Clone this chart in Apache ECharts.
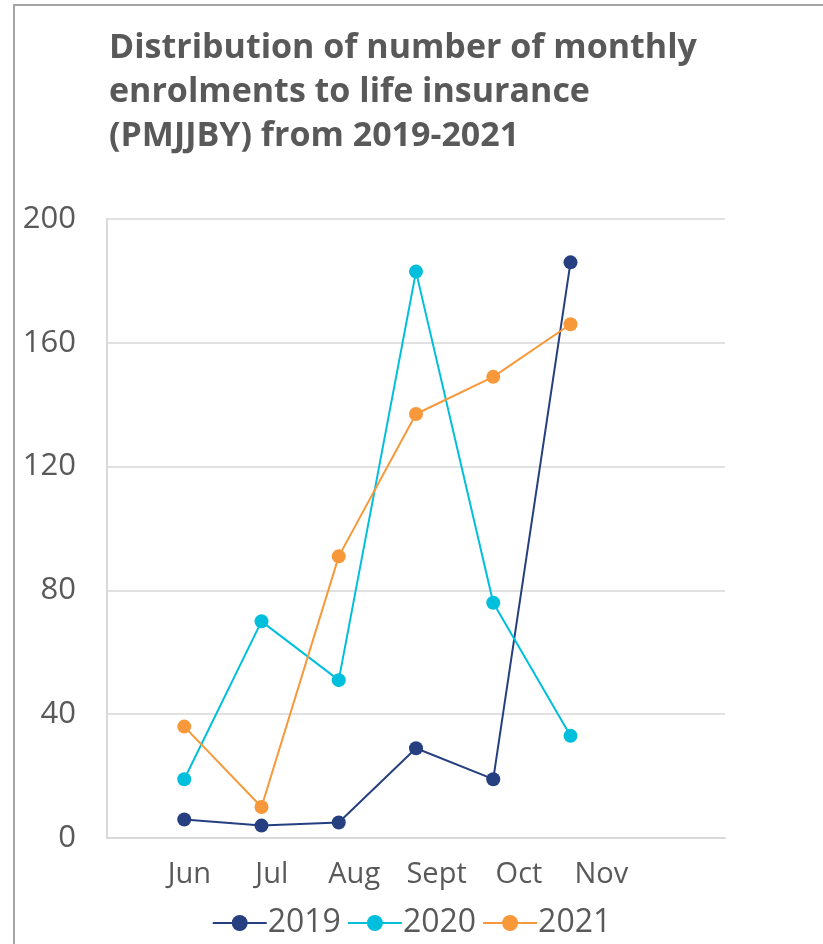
<!DOCTYPE html>
<html>
<head>
<meta charset="utf-8">
<script src="https://cdn.jsdelivr.net/npm/echarts@6/dist/echarts.min.js"></script>
<style>
  html, body { margin: 0; padding: 0; background: #fff; overflow: hidden; }
  #frame { position: absolute; left: 13px; top: 4px; width: 900px; height: 1000px;
           border-left: 2px solid #a5a5a5; border-top: 2px solid #a5a5a5; }
  #chart { position: absolute; left: 0; top: 0; width: 823px; height: 944px; }
</style>
</head>
<body>
<div id="frame"></div>
<div id="chart"></div>
<script>
  // 月份标签
  let months = ['Jun', 'Jul', 'Aug', 'Sept', 'Oct', 'Nov']
  let years = ['2019', '2020', '2021']
  // 各年数据
  let data2019 = [6, 4, 5, 29, 19, 186]
  let data2020 = [19, 70, 51, 183, 76, 33]
  let data2021 = [36, 10, 91, 137, 149, 166]
  let yTicks = [0, 40, 80, 120, 160, 200]

  let colors = ['#253f80', '#00bfdc', '#f7983a']
  let textColor = '#595959'
  let font = 'Open Sans'

  let chart = echarts.init(document.getElementById('chart'))

  function toPoints(arr) {
    return arr.map((v, i) => [i + 1, v])
  }

  function makeSeries(name, arr, color) {
    return {
      name: name,
      type: 'line',
      xAxisIndex: 0,
      data: toPoints(arr),
      symbol: 'circle',
      symbolSize: 14,
      itemStyle: {color: color},
      lineStyle: {color: color, width: 2},
      emphasis: {disabled: true}
    }
  }

  let option = {
    animation: false,
    textStyle: {fontFamily: font},
    title: {
      text: 'Distribution of number of monthly\nenrolments to life insurance\n(PMJJBY) from 2019-2021',
      left: 104,
      top: 21,
      textStyle: {
        fontFamily: font,
        fontWeight: 'bold',
        fontSize: 34,
        lineHeight: 44,
        color: textColor
      }
    },
    legend: {
      bottom: 0,
      left: 'center',
      itemWidth: 54,
      itemHeight: 20,
      itemGap: 6,
      data: years,
      lineStyle: {width: 2},
      textStyle: {fontSize: 32, color: textColor, fontFamily: font, padding: [0, 0, 0, -4]}
    },
    grid: {left: 107, right: 98, top: 219, bottom: 106},
    xAxis: [{
      type: 'value',
      min: 0,
      max: 8,
      interval: 1,
      axisLine: {show: true, lineStyle: {color: '#d9d9d9', width: 2}},
      axisTick: {show: false},
      axisLabel: {show: false},
      splitLine: {show: false}
    }, {
      type: 'value',
      position: 'bottom',
      min: 0,
      max: 7.5,
      interval: 1,
      axisLine: {show: false},
      axisTick: {show: false},
      splitLine: {show: false},
      axisLabel: {
        margin: 22,
        fontSize: 29,
        color: textColor,
        fontFamily: font,
        formatter: function (v) {
          return months[v - 1] || ''
        }
      }
    }],
    yAxis: {
      type: 'value',
      min: yTicks[0],
      max: yTicks[yTicks.length - 1],
      interval: 40,
      axisLine: {show: true, lineStyle: {color: '#d9d9d9', width: 2}},
      axisTick: {show: false},
      splitLine: {lineStyle: {color: '#e1e1e1', width: 2}},
      axisLabel: {margin: 31, fontSize: 31, color: textColor, fontFamily: font}
    },
    series: [
      makeSeries(years[0], data2019, colors[0]),
      makeSeries(years[1], data2020, colors[1]),
      makeSeries(years[2], data2021, colors[2])
    ]
  }

  chart.setOption(option)
</script>
</body>
</html>
